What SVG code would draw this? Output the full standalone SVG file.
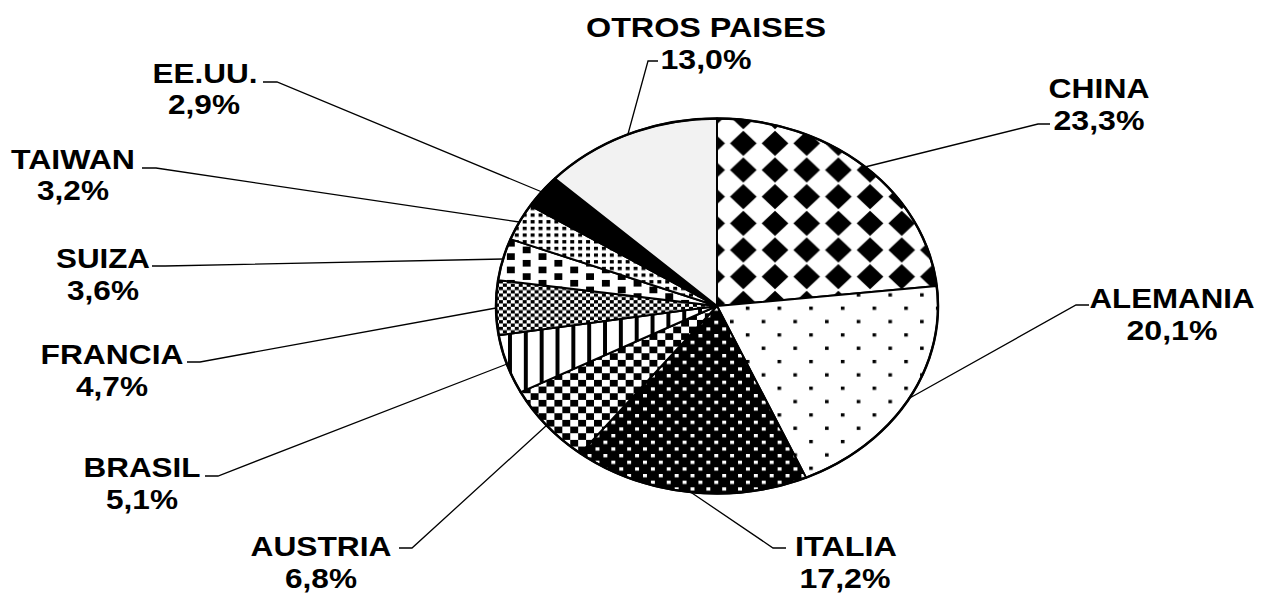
<svg xmlns="http://www.w3.org/2000/svg" width="1263" height="596" viewBox="0 0 1263 596">
<style>
.lbl{font-family:"Liberation Sans",Arial,sans-serif;font-weight:bold;font-size:28px;fill:#000;text-anchor:middle}
.slice{stroke:#000;stroke-width:2;stroke-linejoin:round}
.lead{fill:none;stroke:#000;stroke-width:1.3}
</style>
<defs>
<pattern id="pChina" patternUnits="userSpaceOnUse" x="727.5" y="130" width="31.68" height="26.67">
<rect width="31.68" height="26.67" fill="#fff"/>
<polygon points="15.84,0.8 29.2,13.33 15.84,25.9 2.5,13.33" fill="#000"/>
</pattern>
<pattern id="pAlemania" patternUnits="userSpaceOnUse" x="730" y="306.6" width="31.68" height="26.67">
<rect width="31.68" height="26.67" fill="#fff"/>
<rect x="15.84" y="0" width="3.6" height="3.3" fill="#000"/>
<rect x="0" y="13.33" width="3.6" height="3.3" fill="#000"/>
</pattern>
<pattern id="pItalia" patternUnits="userSpaceOnUse" x="643" y="394" width="15.84" height="13.33">
<rect width="15.84" height="13.33" fill="#000"/>
<rect x="0" y="0" width="3.96" height="3.33" fill="#fff"/>
<rect x="7.92" y="6.67" width="3.96" height="3.33" fill="#fff"/>
</pattern>
<pattern id="pAustria" patternUnits="userSpaceOnUse" x="0" y="0" width="15.84" height="13.33">
<rect width="15.84" height="13.33" fill="#fff"/>
<rect x="0" y="0" width="7.92" height="6.67" fill="#000"/>
<rect x="7.92" y="6.67" width="7.92" height="6.67" fill="#000"/>
</pattern>
<pattern id="pBrasil" patternUnits="userSpaceOnUse" x="508" y="0" width="15.84" height="13.33">
<rect width="15.84" height="13.33" fill="#fff"/>
<rect x="0" y="0" width="3.96" height="13.33" fill="#000"/>
</pattern>
<pattern id="pFrancia" patternUnits="userSpaceOnUse" x="0" y="0" width="7.92" height="6.67">
<rect width="7.92" height="6.67" fill="#fff"/>
<rect x="0" y="0" width="3.96" height="3.33" fill="#000"/>
<rect x="3.96" y="3.33" width="3.96" height="3.34" fill="#000"/>
</pattern>
<pattern id="pSuiza" patternUnits="userSpaceOnUse" x="0" y="0" width="31.68" height="13.33">
<rect width="31.68" height="13.33" fill="#fff"/>
<rect x="0" y="0" width="7.92" height="6.67" fill="#000"/>
<rect x="15.84" y="6.67" width="7.92" height="6.66" fill="#000"/>
</pattern>
<pattern id="pTaiwan" patternUnits="userSpaceOnUse" x="0" y="0" width="7.92" height="6.67">
<rect width="7.92" height="6.67" fill="#fff"/>
<rect x="0" y="0" width="3.96" height="3.33" fill="#000"/>
</pattern>
</defs>
<rect width="1263" height="596" fill="#fff"/>
<g id="pie">
<g id="slice-china"><path class="slice" fill="url(#pChina)" d="M717,306 L717,118.5 A221,187.5 0 0 1 936.74,286.01 Z"/></g>
<g id="slice-alemania"><path class="slice" fill="url(#pAlemania)" d="M717,306 L936.74,286.01 A221,187.5 0 0 1 806.04,477.61 Z"/></g>
<g id="slice-italia"><path class="slice" fill="url(#pItalia)" d="M717,306 L806.04,477.61 A221,187.5 0 0 1 580.43,453.42 Z"/></g>
<g id="slice-austria"><path class="slice" fill="url(#pAustria)" d="M717,306 L580.43,453.42 A221,187.5 0 0 1 520.71,392.19 Z"/></g>
<g id="slice-brasil"><path class="slice" fill="url(#pBrasil)" d="M717,306 L520.71,392.19 A221,187.5 0 0 1 498.72,335.33 Z"/></g>
<g id="slice-francia"><path class="slice" fill="url(#pFrancia)" d="M717,306 L498.72,335.33 A221,187.5 0 0 1 498.11,280.16 Z"/></g>
<g id="slice-suiza"><path class="slice" fill="url(#pSuiza)" d="M717,306 L498.11,280.16 A221,187.5 0 0 1 510.51,239.17 Z"/></g>
<g id="slice-taiwan"><path class="slice" fill="url(#pTaiwan)" d="M717,306 L510.51,239.17 A221,187.5 0 0 1 530.40,205.53 Z"/></g>
<g id="slice-eeuu"><path class="slice" fill="#000" d="M717,306 L530.40,205.53 A221,187.5 0 0 1 554.98,178.48 Z"/></g>
<g id="slice-otros"><path class="slice" fill="#f2f2f2" d="M717,306 L554.98,178.48 A221,187.5 0 0 1 717,118.5 Z"/></g>
<ellipse cx="717" cy="306" rx="221" ry="187.5" fill="none" stroke="#000" stroke-width="2.5"/>
</g>
<g id="connectors">
<polyline class="lead" points="658,61 648,61 628,134"/>
<polyline class="lead" points="1050,124 1038,124 865,167"/>
<polyline class="lead" points="1089,305 1076,305 908,399"/>
<polyline class="lead" points="786,548 773,548 689,491"/>
<polyline class="lead" points="399,548 412,548 547,425"/>
<polyline class="lead" points="205,476 218,476 507,364"/>
<polyline class="lead" points="187,362 200,362 496,308"/>
<polyline class="lead" points="152,266 165,266 503,259"/>
<polyline class="lead" points="142,168 156,168 519,222"/>
<polyline class="lead" points="263,82 277,82 542,192"/>
</g>
<g id="label-otros"><text class="lbl" x="706" y="37" textLength="240" lengthAdjust="spacingAndGlyphs">OTROS PAISES</text><text class="lbl" x="706" y="69" textLength="91" lengthAdjust="spacingAndGlyphs">13,0%</text></g>
<g id="label-china"><text class="lbl" x="1099" y="98" textLength="101" lengthAdjust="spacingAndGlyphs">CHINA</text><text class="lbl" x="1099" y="130" textLength="91" lengthAdjust="spacingAndGlyphs">23,3%</text></g>
<g id="label-alemania"><text class="lbl" x="1172" y="308" textLength="165" lengthAdjust="spacingAndGlyphs">ALEMANIA</text><text class="lbl" x="1172" y="340" textLength="91" lengthAdjust="spacingAndGlyphs">20,1%</text></g>
<g id="label-italia"><text class="lbl" x="846" y="556" textLength="102" lengthAdjust="spacingAndGlyphs">ITALIA</text><text class="lbl" x="845" y="588" textLength="91" lengthAdjust="spacingAndGlyphs">17,2%</text></g>
<g id="label-austria"><text class="lbl" x="321" y="556" textLength="141" lengthAdjust="spacingAndGlyphs">AUSTRIA</text><text class="lbl" x="321" y="588" textLength="72" lengthAdjust="spacingAndGlyphs">6,8%</text></g>
<g id="label-brasil"><text class="lbl" x="142" y="477" textLength="117" lengthAdjust="spacingAndGlyphs">BRASIL</text><text class="lbl" x="142" y="509" textLength="72" lengthAdjust="spacingAndGlyphs">5,1%</text></g>
<g id="label-francia"><text class="lbl" x="112" y="364" textLength="143" lengthAdjust="spacingAndGlyphs">FRANCIA</text><text class="lbl" x="112" y="396" textLength="72" lengthAdjust="spacingAndGlyphs">4,7%</text></g>
<g id="label-suiza"><text class="lbl" x="103" y="268" textLength="94" lengthAdjust="spacingAndGlyphs">SUIZA</text><text class="lbl" x="103" y="300" textLength="72" lengthAdjust="spacingAndGlyphs">3,6%</text></g>
<g id="label-taiwan"><text class="lbl" x="73" y="169" textLength="124" lengthAdjust="spacingAndGlyphs">TAIWAN</text><text class="lbl" x="73" y="200" textLength="72" lengthAdjust="spacingAndGlyphs">3,2%</text></g>
<g id="label-eeuu"><text class="lbl" x="205" y="83" textLength="105" lengthAdjust="spacingAndGlyphs">EE.UU.</text><text class="lbl" x="204" y="114" textLength="72" lengthAdjust="spacingAndGlyphs">2,9%</text></g>
</svg>
